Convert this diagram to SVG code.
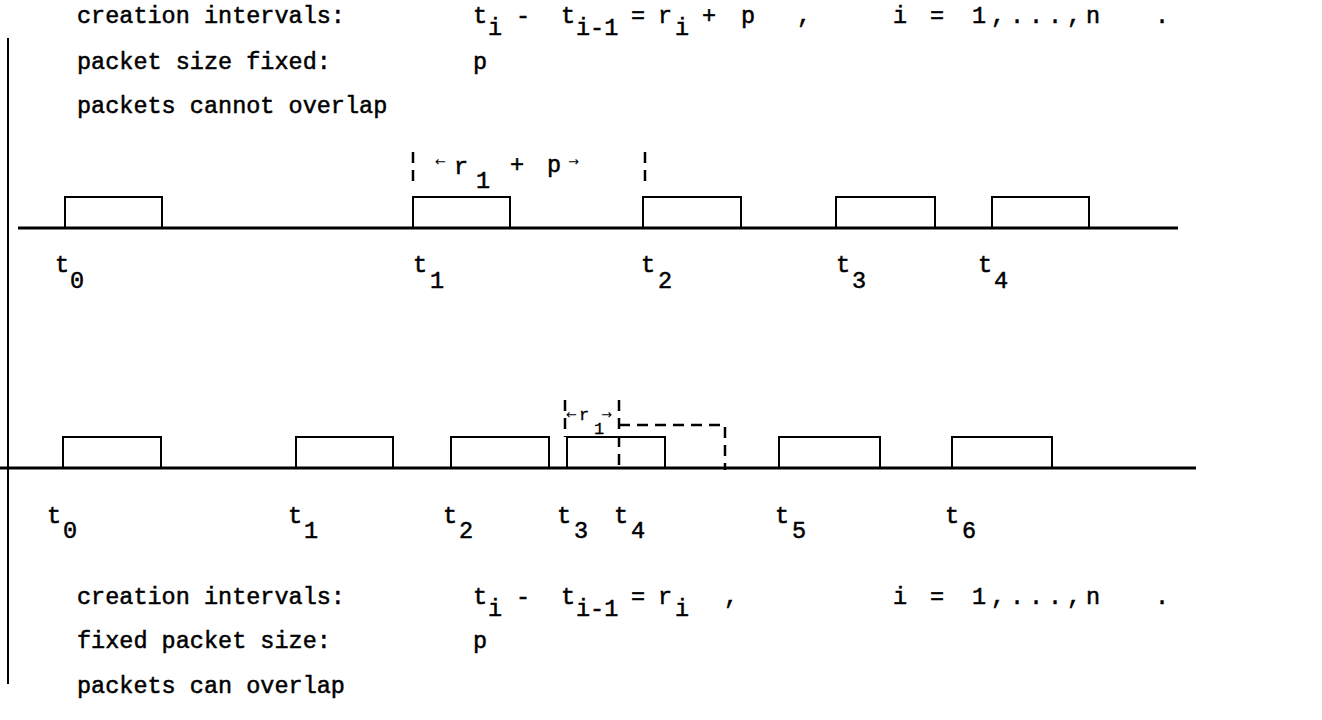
<svg xmlns="http://www.w3.org/2000/svg" width="1322" height="720" viewBox="0 0 1322 720">
  <style>
    .tx{font-family:"Liberation Mono","Courier New",monospace;font-size:23.5px;fill:#000;stroke:#000;stroke-width:0.5}
    .sm{font-family:"Liberation Mono","Courier New",monospace;font-size:17px;fill:#000;stroke:#000;stroke-width:0.3}
    .ar{font-family:"DejaVu Sans",sans-serif;font-size:13px;fill:#000}
    .axis{stroke:#000;stroke-width:3;fill:none}
    .pk{stroke:#000;stroke-width:2;fill:none}
    .dash{stroke:#000;stroke-width:2.5;fill:none;stroke-dasharray:11 7}
    .frame{stroke:#000;stroke-width:2;fill:none}
  </style>
  <rect width="1322" height="720" fill="#fff"/>

  <!-- left margin rule -->
  <line class="frame" x1="8" y1="38" x2="8" y2="684"/>

  <!-- heading: packets of fixed size that cannot overlap -->
  <g id="legend-top" class="tx">
    <text x="77" y="23">creation intervals:</text>
    <text x="473" y="23">t</text><text x="488" y="35">i</text>
    <text x="516" y="23">-</text>
    <text x="561" y="23">t</text><text x="576" y="35">i-1</text>
    <text x="631" y="23">=</text>
    <text x="658" y="23">r</text><text x="675" y="35">i</text>
    <text x="702" y="23">+</text>
    <text x="741" y="23">p</text>
    <text x="797" y="23">,</text>
    <text x="893" y="23">i</text>
    <text x="930" y="23">=</text>
    <text x="972" y="23" textLength="128" lengthAdjust="spacing">1,...,n</text>
    <text x="1155" y="23">.</text>
    <text x="77" y="69">packet size fixed:</text>
    <text x="473" y="69">p</text>
    <text x="77" y="113">packets cannot overlap</text>
  </g>

  <!-- upper time axis -->
  <g id="axis-top">
    <line class="axis" x1="18" y1="228" x2="1178" y2="228"/>
  </g>
  <g id="pkt-a0"><path class="pk" d="M65,228V197H162V228"/></g>
  <g id="pkt-a1"><path class="pk" d="M413,228V197H510V228"/></g>
  <g id="pkt-a2"><path class="pk" d="M643,228V197H741V228"/></g>
  <g id="pkt-a3"><path class="pk" d="M836,228V197H935V228"/></g>
  <g id="pkt-a4"><path class="pk" d="M992,228V197H1089V228"/></g>

  <g id="labels-top" class="tx">
    <text x="55" y="272">t</text><text x="70" y="288">0</text>
    <text x="413" y="272">t</text><text x="430" y="288">1</text>
    <text x="641" y="272">t</text><text x="658" y="288">2</text>
    <text x="836" y="272">t</text><text x="852" y="288">3</text>
    <text x="978" y="272">t</text><text x="994" y="288">4</text>
  </g>

  <!-- interval marks: r1 + p on the upper axis, r1 and the overlapping packet on the lower one -->
  <g id="connectors">
    <line class="dash" x1="413" y1="152" x2="413" y2="187"/>
    <line class="dash" x1="645" y1="152" x2="645" y2="187"/>
    <path class="dash" d="M565,400V437"/>
    <path class="dash" d="M619,400V470"/>
    <path class="dash" d="M619,425H725V470"/>
  </g>
  <g id="mark-top">
    <text class="ar" x="435" y="166">←</text>
    <text class="tx" x="454" y="174">r</text>
    <text class="tx" x="476" y="188">1</text>
    <text class="tx" x="510" y="172">+</text>
    <text class="tx" x="547" y="172">p</text>
    <text class="ar" x="568" y="166">→</text>
  </g>

  <!-- lower time axis -->
  <g id="axis-bottom">
    <line class="axis" x1="0" y1="468" x2="1196" y2="468"/>
  </g>
  <g id="pkt-b0"><path class="pk" d="M63,468V437H161V468"/></g>
  <g id="pkt-b1"><path class="pk" d="M296,468V437H393V468"/></g>
  <g id="pkt-b2"><path class="pk" d="M451,468V437H549V468"/></g>
  <g id="pkt-b3"><path class="pk" d="M567,468V437H665V468"/></g>
  <g id="pkt-b5"><path class="pk" d="M779,468V437H880V468"/></g>
  <g id="pkt-b6"><path class="pk" d="M952,468V437H1052V468"/></g>

  <g id="mark-bottom">
    <text class="ar" x="566" y="419">←</text>
    <text class="sm" x="579" y="420">r</text>
    <text class="sm" x="594" y="434">1</text>
    <text class="ar" x="601" y="419">→</text>
  </g>

  <g id="labels-bottom" class="tx">
    <text x="47" y="523">t</text><text x="63" y="538">0</text>
    <text x="288" y="523">t</text><text x="304" y="538">1</text>
    <text x="443" y="523">t</text><text x="459" y="538">2</text>
    <text x="557" y="523">t</text><text x="574" y="538">3</text>
    <text x="614" y="523">t</text><text x="631" y="538">4</text>
    <text x="775" y="523">t</text><text x="792" y="538">5</text>
    <text x="945" y="523">t</text><text x="962" y="538">6</text>
  </g>

  <!-- footer: packets of fixed size that can overlap -->
  <g id="legend-bottom" class="tx">
    <text x="77" y="604">creation intervals:</text>
    <text x="473" y="604">t</text><text x="488" y="616">i</text>
    <text x="516" y="604">-</text>
    <text x="561" y="604">t</text><text x="576" y="616">i-1</text>
    <text x="631" y="604">=</text>
    <text x="658" y="604">r</text><text x="675" y="616">i</text>
    <text x="724" y="604">,</text>
    <text x="893" y="604">i</text>
    <text x="930" y="604">=</text>
    <text x="972" y="604" textLength="128" lengthAdjust="spacing">1,...,n</text>
    <text x="1155" y="604">.</text>
    <text x="77" y="648">fixed packet size:</text>
    <text x="473" y="648">p</text>
    <text x="77" y="693">packets can overlap</text>
  </g>
</svg>
